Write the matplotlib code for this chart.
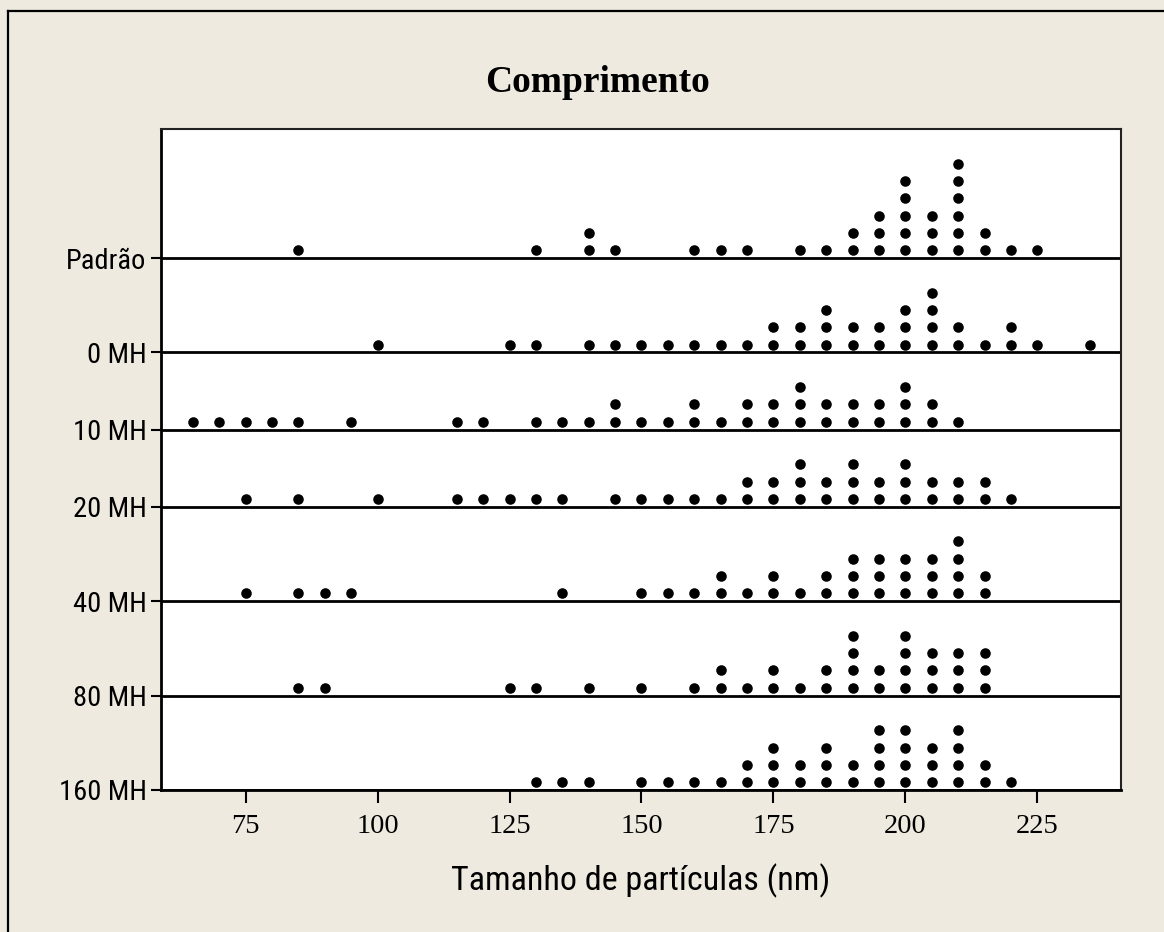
import numpy as np
from matplotlib import pyplot as plt
from matplotlib.lines import Line2D

# Tamanho de partículas (nm) medido em cada tratamento
grupos = ['160 MH', '80 MH', '40 MH', '20 MH', '10 MH', '0 MH', 'Padrão']

mh160 = [130, 135, 140, 150, 155, 160, 165, 170, 170, 175, 175, 175, 180, 180,
         185, 185, 185, 190, 190, 195, 195, 195, 195, 200, 200, 200, 200,
         205, 205, 205, 210, 210, 210, 210, 215, 215, 220]
mh80 = [85, 90, 125, 130, 140, 150, 160, 165, 165, 170, 175, 175, 180, 185, 185,
        190, 190, 190, 190, 195, 195, 200, 200, 200, 200, 205, 205, 205,
        210, 210, 210, 215, 215, 215]
mh40 = [75, 85, 90, 95, 135, 150, 155, 160, 165, 165, 170, 175, 175, 180, 185, 185,
        190, 190, 190, 195, 195, 195, 200, 200, 200, 205, 205, 205,
        210, 210, 210, 210, 215, 215]
mh20 = [75, 85, 100, 115, 120, 125, 130, 135, 145, 150, 155, 160, 165, 170, 170,
        175, 175, 180, 180, 180, 185, 185, 190, 190, 190, 195, 195,
        200, 200, 200, 205, 205, 210, 210, 215, 215, 220]
mh10 = [65, 70, 75, 80, 85, 95, 115, 120, 130, 135, 140, 145, 145, 150, 155,
        160, 160, 165, 170, 170, 175, 175, 180, 180, 180, 185, 185,
        190, 190, 195, 195, 200, 200, 200, 205, 205, 210]
mh0 = [100, 125, 130, 140, 145, 150, 155, 160, 165, 170, 175, 175, 180, 180,
       185, 185, 185, 190, 190, 195, 195, 200, 200, 200, 205, 205, 205, 205,
       210, 210, 215, 220, 220, 225, 235]
padrao = [85, 130, 140, 140, 145, 160, 165, 170, 180, 185, 190, 190,
          195, 195, 195, 200, 200, 200, 200, 200, 205, 205, 205,
          210, 210, 210, 210, 210, 210, 215, 215, 220, 225]

dados = [mh160, mh80, mh40, mh20, mh10, mh0, padrao]
xticks = [75, 100, 125, 150, 175, 200, 225]

fundo = '#EEEAE0'
sans = ['Roboto Condensed', 'Liberation Sans', 'DejaVu Sans']
serif = ['Liberation Serif', 'DejaVu Serif']

fig = plt.figure(figsize=(11.64, 9.32), dpi=100, facecolor=fundo)
ax = fig.add_axes([0.138, 0.1524, 0.8248, 0.7092])
ax.set_facecolor('white')

# cada linha ocupa a altura da maior pilha mais uma folga
folga = 1.45
base = 0.0
bases = []
for vals in dados:
    v, n = np.unique(vals, return_counts=True)
    bases.append(base)
    for xv, cnt in zip(v, n):
        ax.plot([xv] * cnt, base + 0.45 + np.arange(cnt), 'o', color='black',
                markersize=7.6, markeredgewidth=0)
    ax.axhline(base, color='black', linewidth=2, zorder=1)
    base += n.max() + folga

ax.set_xlim(58.9, 240.8)
ax.set_ylim(0, base)

ax.set_xticks(xticks)
ax.set_xticklabels([str(t) for t in xticks], family=serif, fontsize=20.5)
ax.set_yticks(bases)
ax.set_yticklabels(grupos, family=sans, fontsize=20.5)
ax.tick_params(axis='x', length=9, width=1.5, pad=8)
ax.tick_params(axis='y', length=7, width=1.5, pad=3)

for lado in ['left', 'bottom']:
    ax.spines[lado].set_linewidth(2)
for lado in ['top', 'right']:
    ax.spines[lado].set_linewidth(1.5)
    ax.spines[lado].set_color('#222222')

ax.set_xlabel('Tamanho de partículas (nm)', family=sans, fontsize=24.5, labelpad=18)
fig.text(0.513, 0.912, 'Comprimento', family=serif, fontsize=27, fontweight='bold',
         ha='center', va='center')

# moldura da janela (topo e esquerda)
fig.add_artist(Line2D([8 / 1164, 1], [1 - 11 / 932, 1 - 11 / 932], color='black', linewidth=1.6))
fig.add_artist(Line2D([8 / 1164, 8 / 1164], [0, 1 - 11 / 932], color='black', linewidth=1.6))

plt.savefig('out.png', dpi=100, facecolor=fundo)
